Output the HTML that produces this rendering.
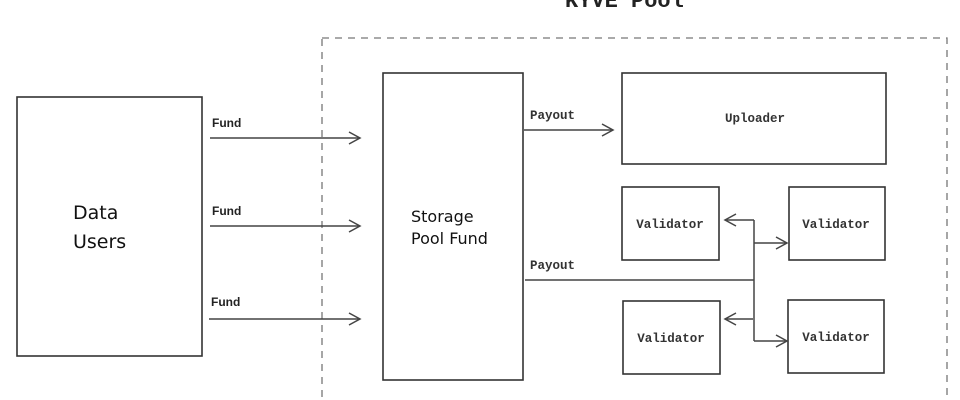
<!DOCTYPE html>
<html><head><meta charset="utf-8"><style>
html,body{margin:0;padding:0;background:#fff;width:960px;height:400px;overflow:hidden}
</style></head><body>
<svg width="960" height="400" xmlns="http://www.w3.org/2000/svg">
<defs><marker id="a" markerWidth="14" markerHeight="14" refX="12" refY="7" orient="auto" markerUnits="userSpaceOnUse"><path d="M1,1 L12,7 L1,13" fill="none" stroke="#444" stroke-width="1.5"/></marker></defs>
<g font-family="Liberation Mono, monospace" fill="#222">
<text x="565" y="7" font-size="22" font-weight="bold">KYVE Pool</text>
</g>
<rect x="322" y="38" width="625" height="380" fill="none" stroke="#777" stroke-width="1.3" stroke-dasharray="7,6"/>
<g fill="none" stroke="#333" stroke-width="1.6">
<rect x="17" y="97" width="185" height="259"/>
<rect x="383" y="73" width="140" height="307"/>
<rect x="622" y="73" width="264" height="91"/>
<rect x="622" y="187" width="97" height="73"/>
<rect x="789" y="187" width="96" height="73"/>
<rect x="623" y="301" width="97" height="73"/>
<rect x="788" y="300" width="96" height="73"/>
</g>
<g stroke="#444" stroke-width="1.5" fill="none" marker-end="url(#a)">
<line x1="210" y1="138" x2="360" y2="138"/>
<line x1="210" y1="226" x2="360" y2="226"/>
<line x1="209" y1="319" x2="360" y2="319"/>
<line x1="524" y1="130" x2="613" y2="130"/>
<polyline points="754,220 725,220"/>
<polyline points="754,243 787,243"/>
<polyline points="753,319 725,319"/>
<polyline points="754,341 787,341"/>
</g>
<g stroke="#444" stroke-width="1.5">
<line x1="525" y1="280" x2="754" y2="280"/>
<line x1="754" y1="220" x2="754" y2="341"/>
</g>
<g font-family="Liberation Sans, sans-serif" font-size="12" font-weight="bold" fill="#222">
<text x="212" y="127">Fund</text>
<text x="212" y="215">Fund</text>
<text x="211" y="306">Fund</text>
</g>
<g font-family="Liberation Mono, monospace" font-size="12.5" font-weight="bold" fill="#333">
<text x="530" y="119">Payout</text>
<text x="530" y="269">Payout</text>
<text x="755" y="122" text-anchor="middle">Uploader</text>
<text x="670" y="228" text-anchor="middle">Validator</text>
<text x="836" y="228" text-anchor="middle">Validator</text>
<text x="671" y="342" text-anchor="middle">Validator</text>
<text x="836" y="341" text-anchor="middle">Validator</text>
</g>
<g font-family="DejaVu Sans, sans-serif" font-size="19" fill="#111">
<text x="73" y="219">Data</text>
<text x="73" y="248">Users</text>
<text x="411" y="222" font-size="16">Storage</text>
<text x="411" y="244" font-size="16">Pool Fund</text>
</g>
</svg>
</body></html>
